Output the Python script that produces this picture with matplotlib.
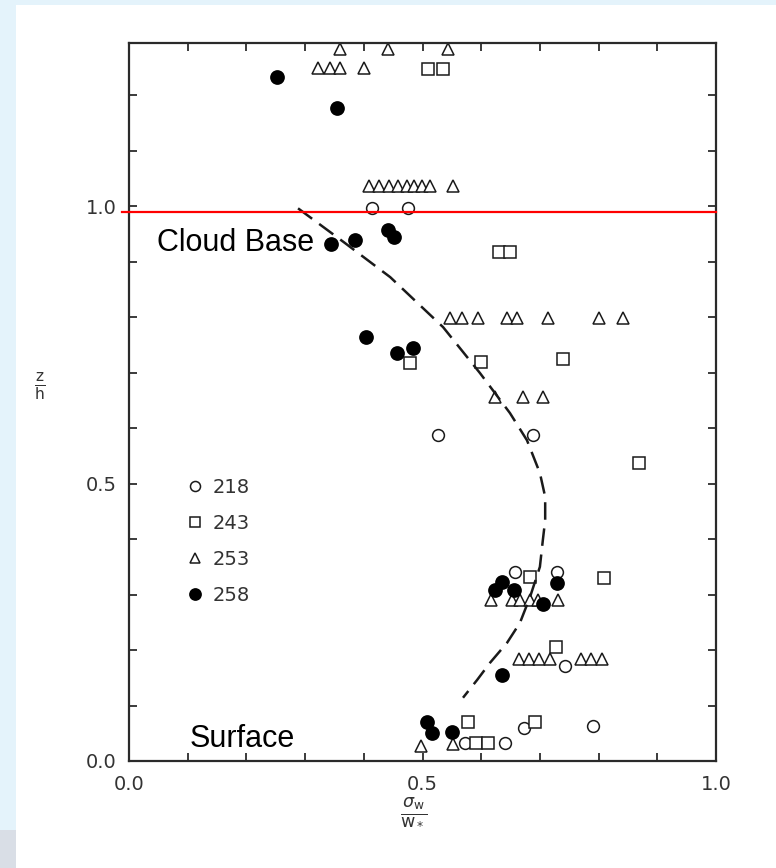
import matplotlib
matplotlib.use("Agg")
import matplotlib.pyplot as plt
from matplotlib.patches import Rectangle

# sigma_w / w_* versus z / h for four flights
run218_x = [0.414, 0.475, 0.526, 0.688, 0.658, 0.729, 0.743, 0.572, 0.640, 0.673, 0.790]
run218_y = [0.996, 0.996, 0.587, 0.587, 0.341, 0.341, 0.171, 0.032, 0.032, 0.059, 0.063]

run243_x = [0.509, 0.535, 0.630, 0.649, 0.479, 0.600, 0.739, 0.869, 0.683, 0.809,
            0.727, 0.578, 0.591, 0.612, 0.692]
run243_y = [1.247, 1.247, 0.917, 0.917, 0.717, 0.719, 0.724, 0.537, 0.332, 0.330,
            0.205, 0.070, 0.032, 0.032, 0.070]

run253_x = [0.359, 0.441, 0.543,
            0.322, 0.342, 0.359, 0.400,
            0.409, 0.426, 0.443, 0.458, 0.474, 0.486, 0.499, 0.513, 0.552,
            0.547, 0.567, 0.595, 0.644, 0.661, 0.714, 0.801, 0.842,
            0.624, 0.671, 0.705,
            0.617, 0.652, 0.666, 0.683, 0.697, 0.731,
            0.664, 0.681, 0.698, 0.717, 0.770, 0.787, 0.806,
            0.497, 0.552]
run253_y = [1.283, 1.283, 1.283,
            1.249, 1.249, 1.249, 1.249,
            1.036, 1.036, 1.036, 1.036, 1.036, 1.036, 1.036, 1.036, 1.036,
            0.798, 0.798, 0.798, 0.798, 0.798, 0.798, 0.798, 0.798,
            0.656, 0.656, 0.656,
            0.290, 0.290, 0.290, 0.290, 0.290, 0.290,
            0.184, 0.184, 0.184, 0.184, 0.184, 0.184, 0.184,
            0.027, 0.031]

run258_x = [0.252, 0.354, 0.441, 0.451, 0.385, 0.344, 0.404, 0.457, 0.484,
            0.635, 0.624, 0.656, 0.729, 0.705, 0.635, 0.507, 0.516, 0.550]
run258_y = [1.232, 1.177, 0.957, 0.944, 0.939, 0.931, 0.764, 0.735, 0.744,
            0.323, 0.308, 0.308, 0.321, 0.283, 0.155, 0.070, 0.050, 0.052]

# fitted profile (dashed curve)
fit_x = [0.288, 0.366, 0.445, 0.535, 0.598, 0.649, 0.678, 0.700, 0.709, 0.709,
         0.705, 0.700, 0.683, 0.666, 0.644, 0.615, 0.593, 0.569]
fit_y = [0.996, 0.935, 0.872, 0.782, 0.699, 0.627, 0.578, 0.519, 0.476, 0.434,
         0.398, 0.350, 0.295, 0.249, 0.213, 0.177, 0.146, 0.114]

cloud_base = 0.989
run_labels = ["218", "243", "253", "258"]

W, H = 776, 868
fig = plt.figure(figsize=(W / 100, H / 100), dpi=100)
fig.patch.set_facecolor("#e4f3fb")
fig.patches.append(Rectangle((16 / W, 0), 1 - 16 / W, 1 - 5 / H,
                             transform=fig.transFigure, facecolor="white",
                             edgecolor="none", zorder=-10))
fig.patches.append(Rectangle((0, 0), 16 / W, 38 / H,
                             transform=fig.transFigure, facecolor="#d9dee6",
                             edgecolor="none", zorder=-10))

ax = fig.add_axes([129 / W, 1 - 761 / H, (716 - 129) / W, (761 - 43) / H])
ax.set_zorder(1)
ax.set_facecolor("none")
ax.set_xlim(0, 1.0)
ax.set_ylim(0, 1.294)

ink = "#1a1a1a"
mk = dict(linestyle="none", markeredgewidth=1.1, clip_on=False)
h1, = ax.plot(run218_x, run218_y, marker="o", markersize=8.5,
              markerfacecolor="white", markeredgecolor=ink, **mk)
h2, = ax.plot(run243_x, run243_y, marker="s", markersize=8.5,
              markerfacecolor="white", markeredgecolor=ink, **mk)
h3, = ax.plot(run253_x, run253_y, marker="^", markersize=8.5,
              markerfacecolor="white", markeredgecolor=ink, **mk)
h4, = ax.plot(run258_x, run258_y, marker="o", markersize=9.5,
              markerfacecolor="black", markeredgecolor="black", **mk)

ax.plot(fit_x, fit_y, color=ink, lw=1.8, linestyle=(0, (7, 3.5)),
        dash_joinstyle="round", dash_capstyle="butt")

ax.axhline(cloud_base, xmin=-0.012, xmax=1.0, color="#ff0000", lw=1.6,
           zorder=5, clip_on=False)

ax.text(0.048, 0.933, "Cloud Base", family="Liberation Sans", fontsize=22,
        ha="left", va="center", color="black")
ax.text(0.104, 0.040, "Surface", family="Liberation Sans", fontsize=22,
        ha="left", va="center", color="black")

# ticks every 0.1, labels only at 0, 0.5 and 1
ticks = [i / 10 for i in range(11)]
ax.set_xticks(ticks)
ax.set_xticklabels(["0.0" if t == 0 else "0.5" if t == 5 else "1.0" if t == 10 else ""
                    for t in range(11)])
yticks = [i / 10 for i in range(13)]
ax.set_yticks(yticks)
ax.set_yticklabels(["0.0" if t == 0 else "0.5" if t == 5 else "1.0" if t == 10 else ""
                    for t in range(13)])
ax.tick_params(direction="in", length=6, width=1.2, top=True, right=True,
               labelsize=14, labelcolor="#333333", colors=ink)
ax.tick_params(axis="x", pad=10)
ax.tick_params(axis="y", pad=9)
for s in ax.spines.values():
    s.set_linewidth(1.6)
    s.set_color("#2a2a2a")

leg = ax.legend([h1, h2, h3, h4], run_labels, loc="upper left",
                bbox_to_anchor=(186 / W, 1 - 478 / H), bbox_transform=fig.transFigure,
                frameon=False, fontsize=14, borderpad=0, handlelength=0.95,
                handletextpad=0.4, labelspacing=0.87, borderaxespad=0,
                markerscale=0.85)
for t in leg.get_texts():
    t.set_color("#333333")

fig.text(40 / W, 1 - 386 / H, r"$\frac{\mathrm{z}}{\mathrm{h}}$", fontsize=16,
         ha="center", va="center", color="#333333")
fig.text(414 / W, 1 - 811 / H, r"$\frac{\sigma_\mathrm{w}}{\mathrm{w}_*}$", fontsize=18,
         ha="center", va="center", color="#333333")

fig.savefig("out.png", dpi=100)
